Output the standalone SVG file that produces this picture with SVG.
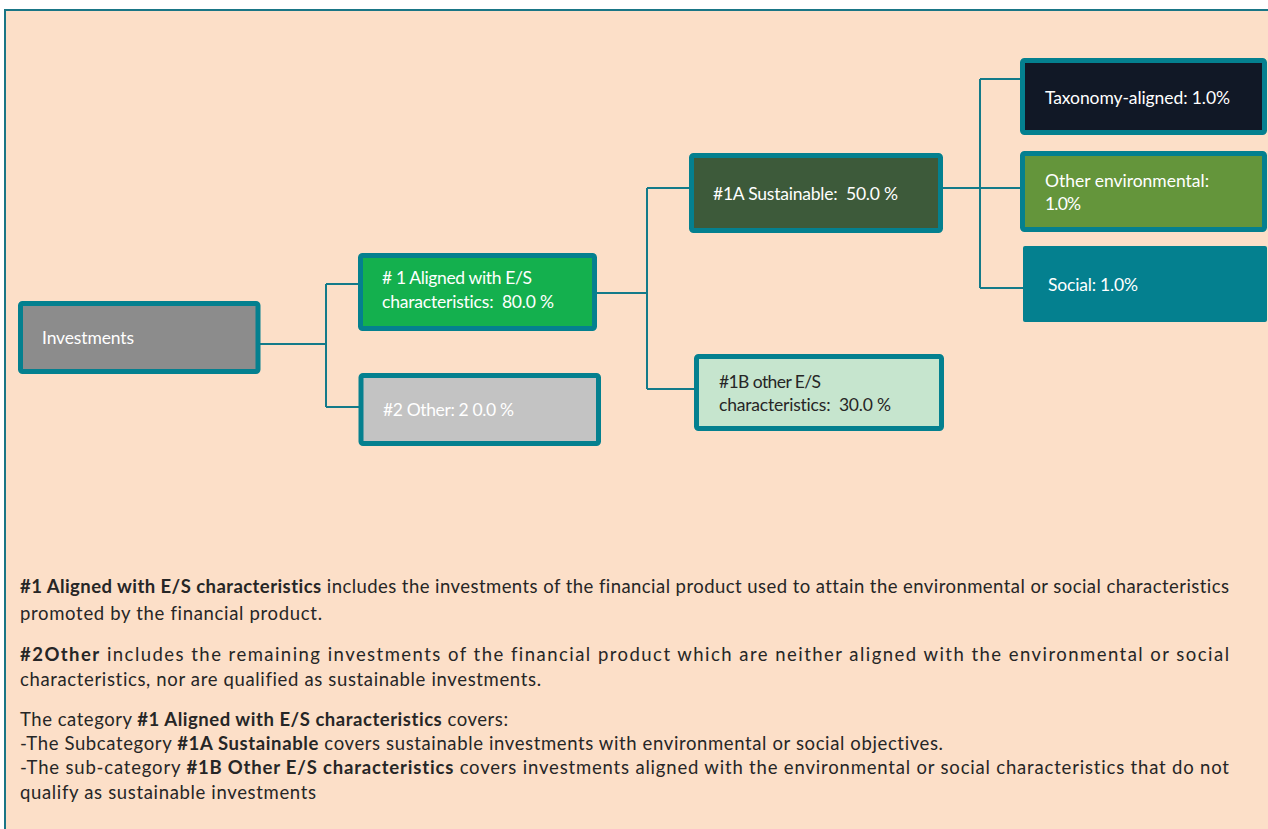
<svg xmlns="http://www.w3.org/2000/svg" width="1268" height="829" viewBox="0 0 1268 829">
<style>
.box{stroke:#04808F;stroke-width:5}
.lbl{font-family:Lato,"Liberation Sans",sans-serif;font-size:17.5px;fill:#FFFFFF;font-variant-ligatures:none}
.dark{fill:#262626}
.body{font-family:Lato,"Liberation Sans",sans-serif;font-size:18.5px;fill:#262626;font-variant-ligatures:none}
.b{font-weight:bold}
.conn{fill:none;stroke:#137A89;stroke-width:2}
</style>
<rect x="0" y="0" width="1268" height="829" fill="#FFFFFF"/>
<rect id="frame" x="5" y="10" width="1300" height="900" fill="#FCDFC8" stroke="#1A7686" stroke-width="2"/>
<g id="connectors">
<path class="conn" d="M260,344 H326 M326,284 V407 M326,284 H358 M326,407 H359"/>
<path class="conn" d="M597,293 H647 M647,188 V389 M647,188 H689 M647,389 H695"/>
<path class="conn" d="M942,188 H1020 M980,79 V288 M980,79 H1020 M980,288 H1023"/>
</g>
<g id="investments">
<rect class="box" x="20.5" y="303.5" width="237.5" height="68" rx="2" fill="#8C8C8C"/>
<text class="lbl" x="42" y="344" textLength="92">Investments</text>
</g>
<g id="aligned">
<rect class="box" x="360.5" y="255.5" width="234" height="73" rx="2" fill="#14B04E"/>
<text class="lbl" x="382" y="284" textLength="150">#&#160;1 Aligned with E/S</text>
<text class="lbl" x="382" y="308" textLength="172" xml:space="preserve">characteristics:  80.0 %</text>
</g>
<g id="other">
<rect class="box" x="361" y="375.5" width="237.5" height="68" rx="2" fill="#C3C3C3"/>
<text class="lbl" x="383" y="416" textLength="131">#2 Other: 2 0.0 %</text>
</g>
<g id="sustainable">
<rect class="box" x="691.5" y="155.5" width="249" height="75" rx="2" fill="#3D5A3A"/>
<text class="lbl" x="713" y="200" textLength="185" xml:space="preserve">#1A Sustainable:  50.0 %</text>
</g>
<g id="otherES">
<rect class="box" x="696.5" y="356.5" width="245" height="72" rx="2" fill="#C6E5CE"/>
<text class="lbl dark" x="719" y="388" textLength="102">#1B other E/S</text>
<text class="lbl dark" x="719" y="411" textLength="172" xml:space="preserve">characteristics:  30.0 %</text>
</g>
<g id="taxonomy">
<rect class="box" x="1022.5" y="60.5" width="242" height="72" rx="2" fill="#111826"/>
<text class="lbl" x="1045" y="104" textLength="185">Taxonomy-aligned: 1.0%</text>
</g>
<g id="otherenv">
<rect class="box" x="1022.5" y="153.5" width="242" height="76" rx="2" fill="#64953B"/>
<text class="lbl" x="1045" y="187" textLength="164">Other environmental:</text>
<text class="lbl" x="1045" y="210" textLength="36">1.0%</text>
</g>
<g id="social">
<rect x="1023" y="246" width="244" height="76" rx="2" fill="#04808F"/>
<text class="lbl" x="1048" y="291" textLength="90">Social: 1.0%</text>
</g>
<g id="legend">
<text class="body" x="20" y="593" textLength="1209"><tspan class="b">#1 Aligned with E/S characteristics</tspan> includes the investments of the financial product used to attain the environmental or social characteristics</text>
<text class="body" x="20" y="620" textLength="302">promoted by the financial product.</text>
<text class="body" x="20" y="661" textLength="1209"><tspan class="b">#2Other</tspan> includes the remaining investments of the financial product which are neither aligned with the environmental or social</text>
<text class="body" x="20" y="686" textLength="521">characteristics, nor are qualified as sustainable investments.</text>
<text class="body" x="20" y="726" textLength="488">The category <tspan class="b">#1 Aligned with E/S characteristics</tspan> covers:</text>
<text class="body" x="20" y="750" textLength="923">-The Subcategory <tspan class="b">#1A Sustainable</tspan> covers sustainable investments with environmental or social objectives.</text>
<text class="body" x="20" y="774" textLength="1209">-The sub-category <tspan class="b">#1B Other E/S characteristics</tspan> covers investments aligned with the environmental or social characteristics that do not</text>
<text class="body" x="20" y="799" textLength="296">qualify as sustainable investments</text>
</g>
</svg>
